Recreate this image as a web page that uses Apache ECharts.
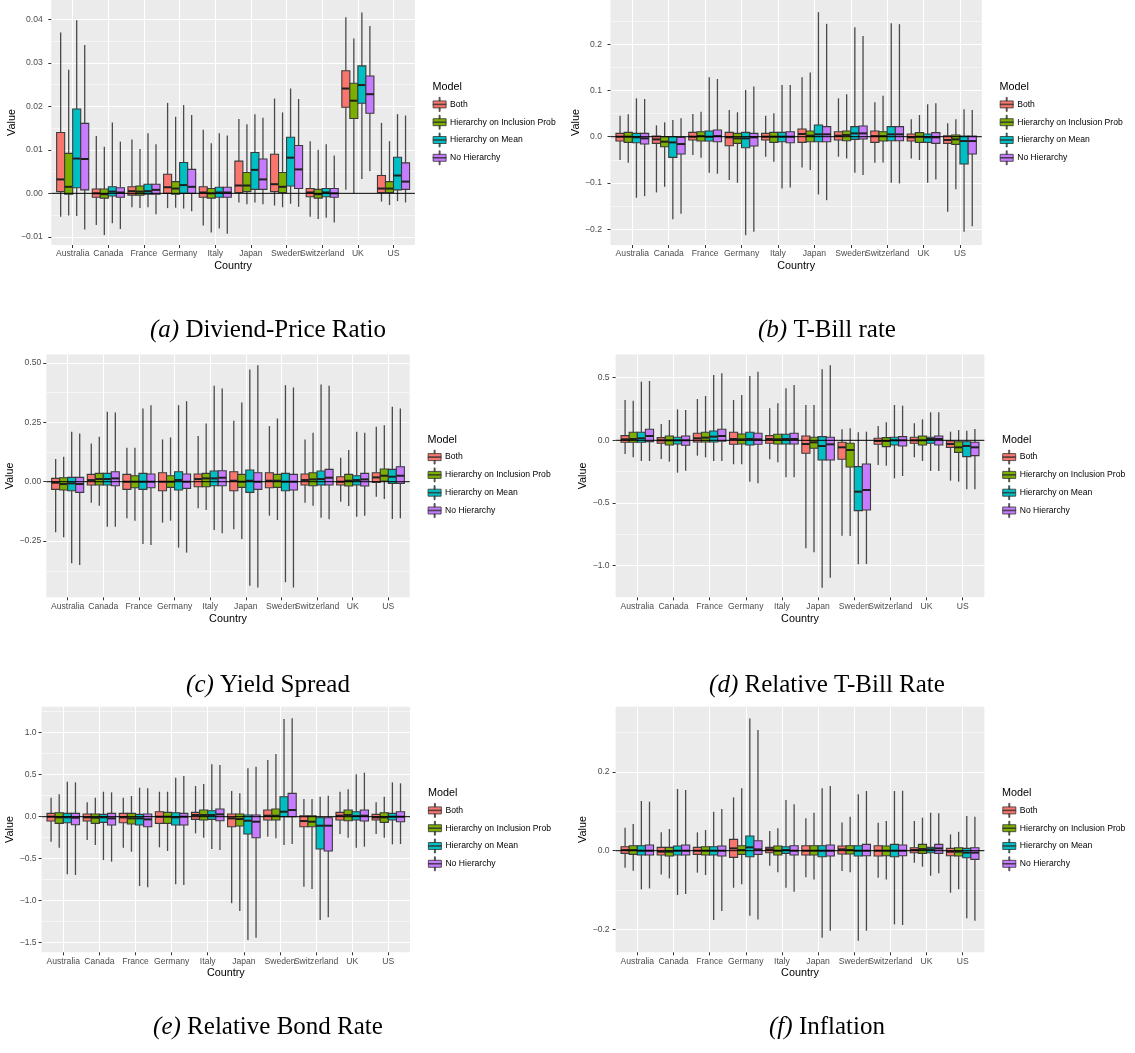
<!DOCTYPE html>
<html><head><meta charset="utf-8">
<script src="https://cdn.jsdelivr.net/npm/echarts@6/dist/echarts.min.js"></script>
<style>html,body{margin:0;padding:0;background:#fff}#c{width:1135px;height:1053px}</style>
</head><body><div id="c"></div>
<script>
// ---------- categories ----------
const COUNTRIES = ['Australia','Canada','France','Germany','Italy','Japan','Sweden','Switzerland','UK','US'];
const MODELS = ['Both','Hierarchy on Inclusion Prob','Hierarchy on Mean','No Hierarchy'];
const COLORS = ['#F8766D','#7CAE00','#00BFC4','#C77CFF'];

// ---------- tick labels ----------
const DP_TICKS = [-0.01, 0, 0.01, 0.02, 0.03, 0.04];
const TB_TICKS = [-0.2, -0.1, 0, 0.1, 0.2];
const YS_TICKS = [-0.25, 0, 0.25, 0.5];
const RTB_TICKS = [-1, -0.5, 0, 0.5];
const RBR_TICKS = [-1.5, -1, -0.5, 0, 0.5, 1];
const INF_TICKS = [-0.2, 0, 0.2];

// ---------- data: per country [min, q1, median, q3, max] ----------
// (a) Dividend-Price Ratio
const DP_BOTH = [[-0.0054,0.0004,0.0032,0.0140,0.0370],[-0.0073,-0.0009,0.0000,0.0010,0.0132],[-0.0032,-0.0004,0.0005,0.0015,0.0124],[-0.0034,0.0000,0.0014,0.0044,0.0208],[-0.0074,-0.0009,0.0002,0.0015,0.0146],[-0.0021,0.0002,0.0018,0.0074,0.0171],[-0.0028,0.0004,0.0021,0.0090,0.0218],[-0.0054,-0.0008,0.0002,0.0011,0.0120],[0.0008,0.0198,0.0241,0.0282,0.0405],[-0.0019,0.0002,0.0011,0.0041,0.0162]];
const DP_INCL = [[-0.0051,-0.0002,0.0015,0.0092,0.0284],[-0.0096,-0.0011,-0.0002,0.0010,0.0107],[-0.0034,-0.0004,0.0004,0.0017,0.0102],[-0.0033,-0.0002,0.0011,0.0027,0.0176],[-0.0090,-0.0011,0.0000,0.0011,0.0115],[-0.0025,0.0004,0.0018,0.0048,0.0159],[-0.0032,0.0002,0.0015,0.0048,0.0186],[-0.0059,-0.0011,-0.0002,0.0009,0.0100],[0.0000,0.0172,0.0213,0.0253,0.0356],[-0.0027,0.0002,0.0011,0.0027,0.0120]];
const DP_MEAN = [[-0.0052,0.0013,0.0080,0.0194,0.0398],[-0.0069,-0.0006,0.0004,0.0015,0.0163],[-0.0032,-0.0002,0.0005,0.0021,0.0138],[-0.0035,0.0000,0.0019,0.0071,0.0203],[-0.0081,-0.0009,0.0002,0.0014,0.0138],[-0.0021,0.0009,0.0054,0.0094,0.0182],[-0.0024,0.0017,0.0082,0.0129,0.0241],[-0.0056,-0.0008,0.0002,0.0011,0.0113],[0.0033,0.0207,0.0249,0.0293,0.0416],[-0.0018,0.0008,0.0041,0.0083,0.0182]];
const DP_NONE = [[-0.0083,0.0008,0.0079,0.0161,0.0341],[-0.0082,-0.0009,0.0002,0.0013,0.0119],[-0.0048,-0.0002,0.0008,0.0021,0.0113],[-0.0041,0.0000,0.0015,0.0055,0.0180],[-0.0093,-0.0009,0.0002,0.0014,0.0133],[-0.0025,0.0009,0.0032,0.0079,0.0174],[-0.0031,0.0011,0.0055,0.0110,0.0217],[-0.0067,-0.0009,0.0000,0.0011,0.0087],[0.0051,0.0184,0.0228,0.0270,0.0385],[-0.0021,0.0009,0.0027,0.0070,0.0179]];
// (b) T-Bill rate
const TB_BOTH = [[-0.0505,-0.0094,0.0000,0.0072,0.0455],[-0.1206,-0.0144,-0.0058,0.0014,0.0245],[-0.0397,-0.0072,0.0000,0.0094,0.0491],[-0.0939,-0.0195,-0.0014,0.0094,0.0578],[-0.0433,-0.0072,0.0000,0.0072,0.0455],[-0.0664,-0.0123,0.0058,0.0166,0.1285],[-0.0433,-0.0072,0.0022,0.0108,0.0830],[-0.0563,-0.0123,0.0014,0.0123,0.0744],[-0.0469,-0.0094,-0.0014,0.0058,0.0375],[-0.1625,-0.0144,-0.0072,0.0022,0.0289]];
const TB_INCL = [[-0.0563,-0.0123,0.0000,0.0094,0.0484],[-0.1083,-0.0217,-0.0108,0.0000,0.0310],[-0.0455,-0.0094,0.0014,0.0108,0.0542],[-0.0996,-0.0144,-0.0036,0.0072,0.0527],[-0.0542,-0.0123,0.0000,0.0094,0.0505],[-0.0722,-0.0108,0.0022,0.0123,0.1386],[-0.0469,-0.0087,0.0036,0.0123,0.0917],[-0.0556,-0.0094,0.0014,0.0108,0.0888],[-0.0505,-0.0123,0.0000,0.0087,0.0469],[-0.1134,-0.0166,-0.0058,0.0036,0.0375]];
const TB_MEAN = [[-0.1320,-0.0130,-0.0014,0.0072,0.0830],[-0.1783,-0.0448,-0.0123,0.0000,0.0361],[-0.0780,-0.0094,0.0000,0.0123,0.1285],[-0.2130,-0.0238,-0.0036,0.0094,0.1011],[-0.1119,-0.0108,0.0000,0.0094,0.1119],[-0.1249,-0.0108,0.0051,0.0253,0.2693],[-0.0780,-0.0058,0.0072,0.0217,0.2368],[-0.0996,-0.0087,0.0051,0.0217,0.2455],[-0.0996,-0.0123,-0.0014,0.0058,0.0700],[-0.2058,-0.0592,-0.0094,0.0014,0.0592]];
const TB_NONE = [[-0.1285,-0.0159,-0.0036,0.0072,0.0816],[-0.1668,-0.0375,-0.0159,-0.0014,0.0397],[-0.0801,-0.0108,0.0014,0.0144,0.1249],[-0.2058,-0.0202,-0.0014,0.0072,0.1083],[-0.1097,-0.0130,0.0000,0.0108,0.1119],[-0.1372,-0.0108,0.0051,0.0217,0.2440],[-0.0830,-0.0051,0.0072,0.0231,0.2180],[-0.1011,-0.0087,0.0051,0.0217,0.2433],[-0.0924,-0.0144,-0.0014,0.0087,0.0722],[-0.1935,-0.0375,-0.0094,0.0014,0.0578]];
// (c) Yield Spread
const YS_BOTH = [[-0.2129,-0.0322,-0.0042,0.0140,0.0952],[-0.0882,-0.0140,0.0070,0.0308,0.1611],[-0.1541,-0.0322,0.0000,0.0308,0.1429],[-0.1723,-0.0378,0.0000,0.0378,0.1779],[-0.1120,-0.0210,0.0112,0.0322,0.1919],[-0.2003,-0.0378,0.0042,0.0420,0.2563],[-0.1429,-0.0252,0.0042,0.0378,0.2339],[-0.0882,-0.0140,0.0070,0.0322,0.1779],[-0.0840,-0.0140,0.0000,0.0210,0.1008],[-0.0630,-0.0028,0.0182,0.0378,0.2311]];
const YS_INCL = [[-0.2339,-0.0350,-0.0098,0.0168,0.1050],[-0.1008,-0.0140,0.0112,0.0350,0.1891],[-0.1639,-0.0252,0.0000,0.0252,0.1429],[-0.1639,-0.0238,0.0000,0.0252,0.1863],[-0.1190,-0.0210,0.0140,0.0350,0.2451],[-0.2409,-0.0238,0.0000,0.0308,0.3333],[-0.1611,-0.0238,0.0042,0.0308,0.2661],[-0.1008,-0.0168,0.0098,0.0378,0.2059],[-0.1022,-0.0182,0.0042,0.0308,0.1331],[-0.0728,0.0028,0.0252,0.0532,0.2381]];
const YS_MEAN = [[-0.3431,-0.0378,-0.0070,0.0182,0.2100],[-0.1891,-0.0140,0.0112,0.0350,0.2941],[-0.2619,-0.0322,0.0000,0.0350,0.3081],[-0.2773,-0.0350,0.0070,0.0420,0.3221],[-0.2031,-0.0168,0.0140,0.0448,0.4034],[-0.4384,-0.0448,0.0042,0.0490,0.4720],[-0.4230,-0.0378,0.0000,0.0350,0.4062],[-0.1513,-0.0140,0.0112,0.0448,0.4090],[-0.1471,-0.0140,0.0070,0.0252,0.2100],[-0.1569,-0.0070,0.0210,0.0518,0.3151]];
const YS_NONE = [[-0.3501,-0.0448,-0.0098,0.0182,0.2031],[-0.1891,-0.0168,0.0140,0.0420,0.2913],[-0.2661,-0.0252,0.0000,0.0322,0.3221],[-0.2983,-0.0280,0.0000,0.0322,0.3389],[-0.2171,-0.0168,0.0168,0.0462,0.3922],[-0.4454,-0.0322,0.0000,0.0378,0.4902],[-0.4454,-0.0350,0.0000,0.0308,0.3964],[-0.1583,-0.0140,0.0168,0.0518,0.4034],[-0.1429,-0.0182,0.0098,0.0350,0.2059],[-0.1541,-0.0070,0.0252,0.0630,0.3081]];
// (d) Relative T-Bill Rate
const RTB_BOTH = [[-0.1090,-0.0160,0.0080,0.0372,0.3218],[-0.1489,-0.0239,0.0000,0.0213,0.1303],[-0.1223,-0.0133,0.0160,0.0559,0.3298],[-0.1915,-0.0319,0.0106,0.0638,0.3218],[-0.1516,-0.0239,0.0106,0.0372,0.2553],[-0.8617,-0.1037,-0.0293,0.0346,0.2819],[-0.7606,-0.1516,-0.0559,-0.0160,0.0878],[-0.1968,-0.0319,-0.0053,0.0160,0.1144],[-0.1356,-0.0239,0.0000,0.0239,0.1356],[-0.3220,-0.0560,-0.0290,-0.0050,0.0690]];
const RTB_INCL = [[-0.1356,-0.0160,0.0106,0.0638,0.3165],[-0.1702,-0.0372,0.0000,0.0346,0.1622],[-0.1356,-0.0133,0.0213,0.0638,0.3537],[-0.1915,-0.0293,0.0080,0.0505,0.3617],[-0.1755,-0.0293,0.0080,0.0479,0.2952],[-0.8936,-0.0638,-0.0160,0.0239,0.2819],[-0.7633,-0.2128,-0.0771,-0.0239,0.0957],[-0.2021,-0.0505,-0.0053,0.0213,0.1436],[-0.1649,-0.0372,0.0000,0.0346,0.1676],[-0.3300,-0.0960,-0.0560,-0.0110,0.0820]];
const RTB_MEAN = [[-0.1649,-0.0160,0.0160,0.0638,0.4681],[-0.2580,-0.0293,0.0000,0.0239,0.2473],[-0.1649,-0.0133,0.0293,0.0745,0.5213],[-0.3298,-0.0372,0.0106,0.0638,0.5133],[-0.2952,-0.0293,0.0106,0.0479,0.4149],[-1.1755,-0.1569,-0.0452,0.0293,0.5665],[-0.9894,-0.5612,-0.4096,-0.2101,0.0638],[-0.3032,-0.0372,0.0000,0.0239,0.2819],[-0.2447,-0.0239,0.0106,0.0239,0.2234],[-0.3910,-0.1300,-0.0450,-0.0110,0.0770]];
const RTB_NONE = [[-0.1649,-0.0106,0.0346,0.0878,0.4734],[-0.2420,-0.0399,0.0000,0.0346,0.2420],[-0.1649,-0.0080,0.0346,0.0878,0.5346],[-0.3431,-0.0319,0.0080,0.0559,0.5479],[-0.2952,-0.0293,0.0106,0.0559,0.4415],[-1.0957,-0.1569,-0.0319,0.0239,0.5984],[-0.9867,-0.5559,-0.3963,-0.1888,0.0691],[-0.2846,-0.0452,0.0000,0.0293,0.2766],[-0.2447,-0.0372,0.0106,0.0346,0.2234],[-0.3910,-0.1220,-0.0560,-0.0160,0.0900]];
// (e) Relative Bond Rate
const RBR_BOTH = [[-0.2976,-0.0516,0.0000,0.0397,0.2262],[-0.2778,-0.0516,-0.0079,0.0317,0.1706],[-0.3690,-0.0714,-0.0079,0.0397,0.2262],[-0.3651,-0.0794,0.0000,0.0595,0.2976],[-0.1984,-0.0317,0.0198,0.0516,0.3651],[-1.0317,-0.1190,-0.0198,0.0317,0.3056],[-0.2381,-0.0397,0.0119,0.0794,0.6746],[-0.8333,-0.1190,-0.0516,0.0119,0.2103],[-0.2063,-0.0397,0.0119,0.0516,0.2976],[-0.2063,-0.0397,-0.0079,0.0278,0.1706]];
const RBR_INCL = [[-0.3690,-0.0794,-0.0079,0.0476,0.2659],[-0.3373,-0.0794,-0.0119,0.0317,0.2262],[-0.4167,-0.0873,-0.0198,0.0397,0.2460],[-0.4087,-0.0794,0.0000,0.0516,0.2976],[-0.2500,-0.0397,0.0198,0.0794,0.3889],[-1.1230,-0.1111,-0.0278,0.0317,0.2778],[-0.2579,-0.0397,0.0119,0.0913,0.7460],[-0.8611,-0.1190,-0.0595,0.0119,0.2103],[-0.2500,-0.0476,0.0198,0.0794,0.3254],[-0.2500,-0.0675,-0.0079,0.0476,0.2381]];
const RBR_MEAN = [[-0.6865,-0.0714,-0.0079,0.0397,0.4167],[-0.5159,-0.0675,-0.0079,0.0278,0.2976],[-0.8254,-0.0992,-0.0198,0.0278,0.3452],[-0.8056,-0.0992,-0.0079,0.0476,0.4643],[-0.3849,-0.0317,0.0198,0.0714,0.6230],[-1.4683,-0.2063,-0.0476,0.0198,0.5754],[-0.3373,0.0000,0.0595,0.2381,1.1627],[-1.2302,-0.3849,-0.1071,-0.0119,0.2381],[-0.3690,-0.0397,0.0079,0.0595,0.5040],[-0.3294,-0.0397,0.0000,0.0397,0.4087]];
const RBR_NONE = [[-0.6944,-0.0952,-0.0119,0.0397,0.4087],[-0.5357,-0.0992,-0.0198,0.0397,0.2897],[-0.8413,-0.1190,-0.0317,0.0317,0.3373],[-0.8135,-0.0992,0.0000,0.0397,0.4841],[-0.3968,-0.0476,0.0278,0.0913,0.6151],[-1.4405,-0.2500,-0.0595,0.0198,0.5952],[-0.3254,0.0000,0.0794,0.2778,1.1706],[-1.1984,-0.4087,-0.1071,-0.0119,0.2500],[-0.3571,-0.0516,0.0119,0.0794,0.5238],[-0.3254,-0.0595,0.0000,0.0595,0.3968]];
// (f) Inflation
const INF_BOTH = [[-0.0432,-0.0068,0.0017,0.0102,0.0585],[-0.0602,-0.0110,-0.0025,0.0085,0.0466],[-0.0559,-0.0093,0.0000,0.0085,0.0466],[-0.0941,-0.0169,0.0059,0.0288,0.1356],[-0.0381,-0.0051,0.0034,0.0085,0.0500],[-0.0678,-0.0110,0.0000,0.0127,0.0822],[-0.0517,-0.0085,0.0034,0.0119,0.0720],[-0.0686,-0.0136,0.0000,0.0127,0.0712],[-0.0305,-0.0051,0.0017,0.0076,0.0754],[-0.1070,-0.0127,-0.0025,0.0060,0.0415]];
const INF_INCL = [[-0.0508,-0.0093,0.0017,0.0127,0.0678],[-0.0703,-0.0136,-0.0025,0.0085,0.0551],[-0.0619,-0.0110,0.0000,0.0102,0.0525],[-0.0856,-0.0093,0.0017,0.0127,0.1585],[-0.0551,-0.0110,0.0000,0.0119,0.0568],[-0.0729,-0.0110,0.0000,0.0127,0.0966],[-0.0551,-0.0085,0.0017,0.0127,0.0864],[-0.0729,-0.0127,0.0000,0.0119,0.0754],[-0.0407,-0.0068,0.0042,0.0161,0.0839],[-0.0980,-0.0136,-0.0025,0.0076,0.0480]];
const INF_MEAN = [[-0.0983,-0.0110,0.0000,0.0127,0.1263],[-0.1127,-0.0110,0.0000,0.0119,0.1568],[-0.1763,-0.0110,0.0000,0.0102,0.0992],[-0.1653,-0.0153,0.0085,0.0373,0.3364],[-0.0941,-0.0068,0.0017,0.0102,0.1288],[-0.2212,-0.0153,0.0000,0.0127,0.1585],[-0.2288,-0.0136,0.0000,0.0127,0.1432],[-0.1873,-0.0153,0.0000,0.0161,0.1517],[-0.0636,-0.0051,0.0034,0.0085,0.0966],[-0.1720,-0.0178,-0.0050,0.0060,0.0880]];
const INF_NONE = [[-0.0958,-0.0110,0.0000,0.0144,0.1246],[-0.1102,-0.0110,0.0000,0.0144,0.1542],[-0.1534,-0.0136,0.0000,0.0119,0.1059],[-0.1746,-0.0093,0.0034,0.0254,0.3068],[-0.1042,-0.0110,0.0000,0.0127,0.1178],[-0.2034,-0.0136,0.0000,0.0144,0.1644],[-0.2034,-0.0127,0.0000,0.0161,0.1517],[-0.1890,-0.0127,0.0000,0.0144,0.1525],[-0.0576,-0.0068,0.0059,0.0161,0.0949],[-0.1780,-0.0220,-0.0050,0.0076,0.0864]];

// ---------- panel layout / styling ----------
const PANELS = [
  {tag:'(a)', caption:'Diviend-Price Ratio', sets:[DP_BOTH,DP_INCL,DP_MEAN,DP_NONE], ticks:DP_TICKS, dec:2, step:0.01, min:-0.01188, max:0.04446,
   grid:{left:51.3, top:0, width:363.6, height:245}, yGap:30.5, yMargin:8.5, xGap:16, legend:[432.7,97], model:[432.5,88], cap:[268,330]},
  {tag:'(b)', caption:'T-Bill rate', sets:[TB_BOTH,TB_INCL,TB_MEAN,TB_NONE], ticks:TB_TICKS, dec:1, step:0.1, min:-0.2342, max:0.2956,
   grid:{left:610.5, top:0, width:371.3, height:245}, yGap:26.5, yMargin:8.5, xGap:16, legend:[999.8,97], model:[999.5,88], cap:[827,330]},
  {tag:'(c)', caption:'Yield Spread', sets:[YS_BOTH,YS_INCL,YS_MEAN,YS_NONE], ticks:YS_TICKS, dec:2, step:0.25, min:-0.4865, max:0.535,
   grid:{left:46.3, top:354.6, width:363.4, height:242.7}, yGap:30, yMargin:5, xGap:16, legend:[427.7,449.7], model:[427.5,441], cap:[268,685]},
  {tag:'(d)', caption:'Relative T-Bill Rate', sets:[RTB_BOTH,RTB_INCL,RTB_MEAN,RTB_NONE], ticks:RTB_TICKS, dec:1, step:0.5, min:-1.2527, max:0.684,
   grid:{left:615.6, top:354.6, width:368.8, height:242.7}, yGap:26, yMargin:6, xGap:16, legend:[1002.3,449.7], model:[1002,441], cap:[827,685]},
  {tag:'(e)', caption:'Relative Bond Rate', sets:[RBR_BOTH,RBR_INCL,RBR_MEAN,RBR_NONE], ticks:RBR_TICKS, dec:1, step:0.5, min:-1.6143, max:1.3095,
   grid:{left:41.6, top:706.7, width:368.4, height:245.6}, yGap:25.5, yMargin:5, xGap:15, legend:[428,803], model:[428,794], cap:[268,1027]},
  {tag:'(f)', caption:'Inflation', sets:[INF_BOTH,INF_INCL,INF_MEAN,INF_NONE], ticks:INF_TICKS, dec:1, step:0.2, min:-0.2583, max:0.3661,
   grid:{left:615.6, top:706.7, width:368.8, height:245.6}, yGap:26, yMargin:6, xGap:15, legend:[1002.4,803], model:[1002,794], cap:[827,1027]}
];

const SANS = 'Liberation Sans, Arial, Helvetica, sans-serif';
const SERIF = 'Liberation Serif, Times New Roman, serif';
const X_MIN = 0.4, X_MAX = COUNTRIES.length + 0.6;   // ggplot discrete expansion 0.6
const DODGE = 0.9;
const NM = MODELS.length;
const XPOS = COUNTRIES.map((c, i) => i + 1);

function fmt(dec) {
  return v => (v < 0 ? '\u2212' : '') + Math.abs(v).toFixed(dec);
}

function boxRenderer(k) {
  return function (params, api) {
    const xi = api.value(0);
    const left = xi - DODGE / 2 + k * DODGE / NM;
    const right = left + DODGE / NM;
    const mid = (left + right) / 2;
    const pMin = api.coord([mid, api.value(1)]);
    const pQ1 = api.coord([left, api.value(2)]);
    const pMed = api.coord([left, api.value(3)]);
    const pQ3 = api.coord([left, api.value(4)]);
    const pMax = api.coord([mid, api.value(5)]);
    const xR = api.coord([right, api.value(3)])[0];
    const color = api.visual('color');
    return {
      type: 'group',
      children: [
        {type: 'line', shape: {x1: pMin[0], y1: pMin[1], x2: pMin[0], y2: pQ1[1]}, style: {stroke: '#4a4a4a', lineWidth: 1.3}},
        {type: 'line', shape: {x1: pMax[0], y1: pQ3[1], x2: pMax[0], y2: pMax[1]}, style: {stroke: '#4a4a4a', lineWidth: 1.3}},
        {type: 'rect', shape: {x: pQ1[0], y: pQ3[1], width: xR - pQ1[0], height: pQ1[1] - pQ3[1]}, style: {fill: color, stroke: '#3a3a3a', lineWidth: 1.1}},
        {type: 'line', shape: {x1: pMed[0], y1: pMed[1], x2: xR, y2: pMed[1]}, style: {stroke: '#1f1f1f', lineWidth: 2}}
      ]
    };
  };
}

const grids = [], xAxes = [], yAxes = [], series = [], legends = [], graphics = [];
const ICON = 'path://M6,0H7V3.5H6Z M0,3.5H13V10.5H0Z M6,10.5H7V14H6Z M0,6.7H13V7.3H0Z';

PANELS.forEach((p, pi) => {
  grids.push(Object.assign({show: true, backgroundColor: '#EBEBEB', borderWidth: 0, containLabel: false, outerBoundsMode: 'none'}, p.grid));
  xAxes.push({
    type: 'value', gridIndex: pi, min: X_MIN, max: X_MAX,
    name: 'Country', nameLocation: 'middle', nameGap: p.xGap,
    nameTextStyle: {color: '#000', fontSize: 10.8, fontFamily: SANS},
    axisLine: {show: false, onZero: false},
    axisTick: {show: true, length: 3, customValues: XPOS, lineStyle: {color: '#333', width: 1}},
    axisLabel: {customValues: XPOS, margin: 4.5, color: '#4D4D4D', fontSize: 8.6, fontFamily: SANS,
      formatter: v => COUNTRIES[Math.round(v) - 1] || ''},
    splitLine: {show: true, lineStyle: {color: '#FFFFFF', width: 1.1}},
    minorSplitLine: {show: false}
  });
  yAxes.push({
    type: 'value', gridIndex: pi, min: p.min, max: p.max,
    minInterval: p.step, maxInterval: p.step,
    name: 'Value', nameLocation: 'middle', nameGap: p.yGap,
    nameTextStyle: {color: '#000', fontSize: 10.8, fontFamily: SANS},
    axisLine: {show: false, onZero: false},
    axisTick: {show: true, length: 3, customValues: p.ticks, lineStyle: {color: '#333', width: 1}},
    axisLabel: {customValues: p.ticks, margin: p.yMargin, color: '#4D4D4D', fontSize: 8.6, fontFamily: SANS, formatter: fmt(p.dec)},
    splitLine: {show: true, lineStyle: {color: '#FFFFFF', width: 1.1}},
    minorTick: {show: false, splitNumber: 2},
    minorSplitLine: {show: true, lineStyle: {color: '#FFFFFF', width: 0.55}}
  });
  p.sets.forEach((set, k) => {
    series.push({
      type: 'custom', name: MODELS[k], xAxisIndex: pi, yAxisIndex: pi,
      itemStyle: {color: COLORS[k]},
      data: set.map((d, i) => [XPOS[i]].concat(d)),
      encode: {x: 0, y: [1, 2, 3, 4, 5]},
      renderItem: boxRenderer(k),
      silent: true, z: 2
    });
  });
  // zero reference line (geom_hline at 0)
  series.push({
    type: 'line', name: 'zero', xAxisIndex: pi, yAxisIndex: pi,
    data: [[X_MIN, 0], [X_MAX, 0]], symbol: 'none', silent: true, z: 5,
    lineStyle: {color: '#000', width: 1}
  });
  legends.push({
    show: true, orient: 'vertical', left: p.legend[0], top: p.legend[1], padding: 0,
    itemWidth: 13, itemHeight: 14, itemGap: 3, selectedMode: false,
    data: MODELS.map(m => ({name: m, icon: ICON})),
    itemStyle: {borderColor: '#333', borderWidth: 0.8},
    textStyle: {color: '#000', fontSize: 8.6, fontFamily: SANS, padding: [0, 0, 0, -1]}
  });
  graphics.push({
    type: 'text', left: p.model[0], top: p.model[1] - 6,
    style: {text: 'Model', fill: '#000', font: '10.8px ' + SANS}
  });
  graphics.push({
    type: 'text', x: p.cap[0], y: p.cap[1],
    style: {
      text: '{i|' + p.tag + '} {r|' + p.caption + '}',
      align: 'center', verticalAlign: 'middle',
      rich: {
        i: {fontFamily: SERIF, fontSize: 25, fontStyle: 'italic', fill: '#000'},
        r: {fontFamily: SERIF, fontSize: 25, fill: '#000'}
      },
      font: '25px ' + SERIF
    }
  });
});

const chart = echarts.init(document.getElementById('c'), null, {renderer: 'canvas', width: 1135, height: 1053});
chart.setOption({
  animation: false,
  backgroundColor: '#FFFFFF',
  grid: grids, xAxis: xAxes, yAxis: yAxes, series: series, legend: legends,
  graphic: {elements: graphics},
  tooltip: {show: false}
});
</script>
</body></html>
